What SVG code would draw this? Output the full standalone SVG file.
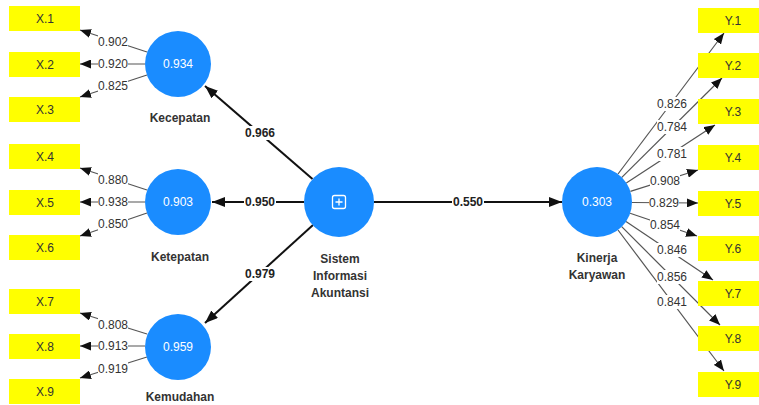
<svg xmlns="http://www.w3.org/2000/svg" width="759" height="405" viewBox="0 0 759 405">
<style>
text{font-family:"Liberation Sans",Arial,sans-serif;}
.box{fill:#ffff00;}
.bt{font-size:12px;fill:#333;text-anchor:middle;dominant-baseline:central;}
.c{fill:#1a8cff;}
.ct{font-size:12px;fill:#fff;text-anchor:middle;dominant-baseline:central;}
.nl{font-size:12px;font-weight:bold;fill:#333;text-anchor:middle;dominant-baseline:central;}
.ol{stroke:#555;stroke-width:1.2;fill:none;marker-end:url(#ao);}
.il{stroke:#111;stroke-width:2;fill:none;marker-end:url(#ai);}
.lb{fill:#fff;}
.lt{font-size:12px;fill:#333;text-anchor:middle;dominant-baseline:central;}
.lti{font-size:12px;font-weight:bold;fill:#222;text-anchor:middle;dominant-baseline:central;}
</style>
<defs>
<marker id="ao" markerUnits="userSpaceOnUse" markerWidth="11" markerHeight="9" refX="11" refY="4.5" orient="auto"><path d="M0,0 L11,4.5 L0,9 z" fill="#111"/></marker>
<marker id="ai" markerUnits="userSpaceOnUse" markerWidth="13" markerHeight="10" refX="13" refY="5" orient="auto"><path d="M0,0 L13,5 L0,10 z" fill="#111"/></marker>
</defs>
<rect width="759" height="405" fill="#fff"/>
<g id="connectors">
<line class="ol" x1="147" y1="52" x2="80" y2="30"/>
<line class="ol" x1="145" y1="64" x2="80" y2="64"/>
<line class="ol" x1="147" y1="75" x2="80" y2="97"/>
<line class="ol" x1="147" y1="190" x2="80" y2="168"/>
<line class="ol" x1="145" y1="202" x2="80" y2="202"/>
<line class="ol" x1="147" y1="213" x2="80" y2="236"/>
<line class="ol" x1="147" y1="334" x2="80" y2="313"/>
<line class="ol" x1="145" y1="346" x2="80" y2="346"/>
<line class="ol" x1="147" y1="357" x2="80" y2="378"/>
<line class="il" x1="312.5" y1="179" x2="205" y2="86"/>
<line class="il" x1="304" y1="202" x2="212" y2="202"/>
<line class="il" x1="313" y1="225" x2="205" y2="323"/>
<line class="il" x1="374" y1="202" x2="562" y2="202"/>
<line class="ol" x1="618" y1="174" x2="724" y2="33"/>
<line class="ol" x1="621.8" y1="177.4" x2="722" y2="78"/>
<line class="ol" x1="626.3" y1="182.9" x2="715" y2="125"/>
<line class="ol" x1="630.4" y1="191.4" x2="698" y2="170"/>
<line class="ol" x1="632" y1="202.5" x2="698" y2="203"/>
<line class="ol" x1="630.1" y1="213.3" x2="697" y2="236"/>
<line class="ol" x1="626" y1="221.5" x2="713" y2="280"/>
<line class="ol" x1="621.7" y1="226.7" x2="720" y2="325"/>
<line class="ol" x1="618" y1="230" x2="724" y2="371"/>
<g>
<rect class="lb" x="98" y="35" width="30" height="14"/><text class="lt" x="113" y="42">0.902</text>
<rect class="lb" x="98" y="57" width="30" height="14"/><text class="lt" x="113" y="64">0.920</text>
<rect class="lb" x="98" y="79" width="30" height="14"/><text class="lt" x="113" y="86">0.825</text>
<rect class="lb" x="98" y="173" width="30" height="14"/><text class="lt" x="113" y="180">0.880</text>
<rect class="lb" x="98" y="195" width="30" height="14"/><text class="lt" x="113" y="202">0.938</text>
<rect class="lb" x="98" y="217" width="30" height="14"/><text class="lt" x="113" y="224">0.850</text>
<rect class="lb" x="98" y="318" width="30" height="14"/><text class="lt" x="113" y="325">0.808</text>
<rect class="lb" x="98" y="339" width="30" height="14"/><text class="lt" x="113" y="346">0.913</text>
<rect class="lb" x="98" y="362" width="30" height="14"/><text class="lt" x="113" y="369">0.919</text>
<rect class="lb" x="244" y="126" width="32" height="14"/><text class="lti" x="260" y="133">0.966</text>
<rect class="lb" x="244" y="195" width="32" height="14"/><text class="lti" x="260" y="202">0.950</text>
<rect class="lb" x="244" y="267" width="32" height="14"/><text class="lti" x="260" y="274">0.979</text>
<rect class="lb" x="452" y="195" width="32" height="14"/><text class="lti" x="468" y="202">0.550</text>
<rect class="lb" x="657" y="97" width="30" height="14"/><text class="lt" x="672" y="104">0.826</text>
<rect class="lb" x="657" y="120" width="30" height="14"/><text class="lt" x="672" y="127">0.784</text>
<rect class="lb" x="657" y="147" width="30" height="14"/><text class="lt" x="672" y="154">0.781</text>
<rect class="lb" x="650" y="174" width="30" height="14"/><text class="lt" x="665" y="181">0.908</text>
<rect class="lb" x="649" y="196" width="30" height="14"/><text class="lt" x="664" y="203">0.829</text>
<rect class="lb" x="650" y="218" width="30" height="14"/><text class="lt" x="665" y="225">0.854</text>
<rect class="lb" x="657" y="243" width="30" height="14"/><text class="lt" x="672" y="250">0.846</text>
<rect class="lb" x="657" y="270" width="30" height="14"/><text class="lt" x="672" y="277">0.856</text>
<rect class="lb" x="657" y="295" width="30" height="14"/><text class="lt" x="672" y="302">0.841</text>
</g>
</g>
<g id="X1"><rect class="box" x="9" y="6" width="71" height="25"/><text class="bt" x="45" y="18.5">X.1</text></g>
<g id="X2"><rect class="box" x="9" y="52" width="71" height="25"/><text class="bt" x="45" y="64.5">X.2</text></g>
<g id="X3"><rect class="box" x="9" y="97" width="71" height="25"/><text class="bt" x="45" y="109.5">X.3</text></g>
<g id="X4"><rect class="box" x="9" y="144" width="71" height="25"/><text class="bt" x="45" y="156.5">X.4</text></g>
<g id="X5"><rect class="box" x="9" y="190" width="71" height="25"/><text class="bt" x="45" y="202.5">X.5</text></g>
<g id="X6"><rect class="box" x="9" y="235" width="71" height="25"/><text class="bt" x="45" y="247.5">X.6</text></g>
<g id="X7"><rect class="box" x="9" y="289" width="71" height="25"/><text class="bt" x="45" y="301.5">X.7</text></g>
<g id="X8"><rect class="box" x="9" y="334" width="71" height="25"/><text class="bt" x="45" y="346.5">X.8</text></g>
<g id="X9"><rect class="box" x="9" y="379" width="71" height="25"/><text class="bt" x="45" y="391.5">X.9</text></g>
<g id="Y1"><rect class="box" x="698" y="8" width="71" height="25"/><text class="bt" x="733" y="20.5">Y.1</text></g>
<g id="Y2"><rect class="box" x="698" y="53" width="71" height="25"/><text class="bt" x="733" y="65.5">Y.2</text></g>
<g id="Y3"><rect class="box" x="698" y="99" width="71" height="25"/><text class="bt" x="733" y="111.5">Y.3</text></g>
<g id="Y4"><rect class="box" x="698" y="145" width="71" height="25"/><text class="bt" x="733" y="157.5">Y.4</text></g>
<g id="Y5"><rect class="box" x="698" y="191" width="71" height="25"/><text class="bt" x="733" y="203.5">Y.5</text></g>
<g id="Y6"><rect class="box" x="698" y="236" width="71" height="25"/><text class="bt" x="733" y="248.5">Y.6</text></g>
<g id="Y7"><rect class="box" x="698" y="281" width="71" height="25"/><text class="bt" x="733" y="293.5">Y.7</text></g>
<g id="Y8"><rect class="box" x="698" y="326" width="71" height="25"/><text class="bt" x="733" y="338.5">Y.8</text></g>
<g id="Y9"><rect class="box" x="698" y="372" width="71" height="25"/><text class="bt" x="733" y="384.5">Y.9</text></g>
<g id="Kecepatan"><circle class="c" cx="178" cy="64" r="33"/><text class="ct" x="178" y="64">0.934</text><text class="nl" x="180" y="118">Kecepatan</text></g>
<g id="Ketepatan"><circle class="c" cx="178" cy="202" r="33"/><text class="ct" x="178" y="202">0.903</text><text class="nl" x="180" y="257">Ketepatan</text></g>
<g id="Kemudahan"><circle class="c" cx="178" cy="347" r="33"/><text class="ct" x="178" y="347">0.959</text><text class="nl" x="180" y="397">Kemudahan</text></g>
<g id="SIA"><circle class="c" cx="339" cy="202" r="35"/>
<rect x="332.5" y="195.5" width="13" height="13" rx="2" fill="none" stroke="#fff" stroke-width="1.3"/>
<path d="M339,198.5 V205.5 M335.5,202 H342.5" stroke="#fff" stroke-width="1.3"/>
<text class="nl" x="340" y="259">Sistem</text><text class="nl" x="340" y="276">Informasi</text><text class="nl" x="340" y="293">Akuntansi</text></g>
<g id="Kinerja"><circle class="c" cx="597" cy="202" r="35"/><text class="ct" x="597" y="202">0.303</text><text class="nl" x="597" y="258">Kinerja</text><text class="nl" x="597" y="275">Karyawan</text></g>
</svg>
